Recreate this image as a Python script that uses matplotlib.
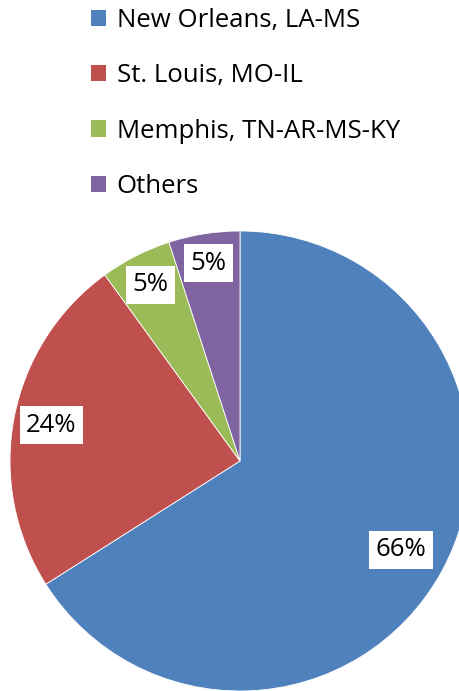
import matplotlib
matplotlib.use("Agg")
import matplotlib.pyplot as plt
import numpy as np

labels = ["New Orleans, LA-MS", "St. Louis, MO-IL", "Memphis, TN-AR-MS-KY", "Others"]
values = [66, 24, 5, 5]
colors = ["#4F81BD", "#C0504D", "#9BBB59", "#8064A2"]
label_dist = [0.80, 0.835, 0.86, 0.87]

plt.rcParams['font.family'] = ['Open Sans', 'DejaVu Sans']

W, H = 460, 691
fig = plt.figure(figsize=(W/100, H/100), dpi=100)
ax = fig.add_axes([0, 0, 1, 1])

cx, cy, R = 240, H - 461, 230
wedges, _ = ax.pie(values, colors=colors, startangle=90, counterclock=False,
                   center=(cx, cy), radius=R, frame=True,
                   wedgeprops=dict(edgecolor='white', linewidth=0.6))
ax.set_xlim(0, W)
ax.set_ylim(0, H)
ax.set_aspect('equal')
ax.axis('off')

for w, v, d in zip(wedges, values, label_dist):
    ang = np.deg2rad((w.theta1 + w.theta2) / 2)
    x = cx + d * R * np.cos(ang)
    y = cy + d * R * np.sin(ang)
    ax.text(x, y, f"{v}%", ha='center', va='center', fontsize=18.5, color='black',
            bbox=dict(boxstyle='square,pad=0.25', facecolor='white', edgecolor='none'))

leg = ax.legend(wedges, labels, loc='upper left', bbox_to_anchor=(91/W, 1.0 - 8/H),
                bbox_transform=fig.transFigure, frameon=False, fontsize=18.5,
                handlelength=0.6, handleheight=0.6, handletextpad=0.4,
                labelspacing=1.18, borderpad=0, borderaxespad=0)
for h in leg.legend_handles:
    h.set_edgecolor('none')

fig.savefig("out.png", dpi=100)
